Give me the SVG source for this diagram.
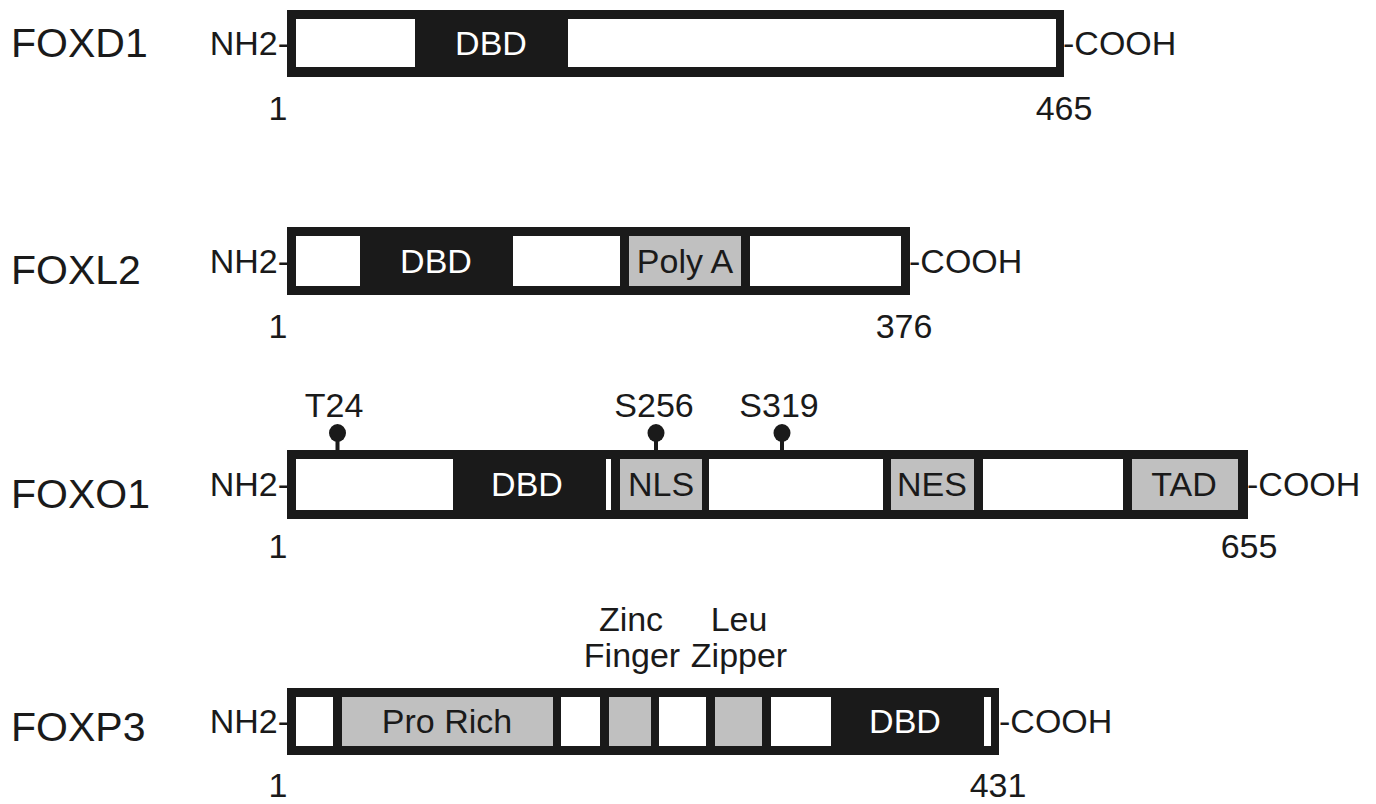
<svg xmlns="http://www.w3.org/2000/svg" width="1376" height="804" viewBox="0 0 1376 804">
<style>
text{font-family:"Liberation Sans",Arial,sans-serif;fill:#1a1a1a}
.name{font-size:41px}
.lbl{font-size:34px}
.in{font-size:34px;text-anchor:middle}
.w{fill:#fff}
.g{fill:#c0c0c0}
.k{fill:#1a1a1a}
.wt{fill:#fff}
.mid{text-anchor:middle}
.end{text-anchor:end}
</style>
<rect width="1376" height="804" fill="#fff"/>
<g id="foxd1">
<text class="name" x="11" y="57">FOXD1</text>
<text class="lbl end" x="289" y="55">NH2-</text>
<rect class="k" x="287" y="10" width="777" height="67"/>
<rect class="w" x="296" y="19" width="119" height="48"/>
<rect class="w" x="568" y="19" width="488" height="48"/>
<text class="in wt" x="491" y="55">DBD</text>
<text class="lbl" x="1063" y="55">-COOH</text>
<text class="lbl mid" x="278" y="120">1</text>
<text class="lbl mid" x="1064" y="120">465</text>
</g>
<g id="foxl2">
<text class="name" x="11" y="284">FOXL2</text>
<text class="lbl end" x="289" y="273">NH2-</text>
<rect class="k" x="287" y="227" width="623" height="68"/>
<rect class="w" x="296" y="236" width="64" height="50"/>
<rect class="w" x="513" y="236" width="107" height="50"/>
<rect class="g" x="629" y="236" width="112" height="50"/>
<rect class="w" x="750" y="236" width="151" height="50"/>
<text class="in wt" x="436" y="273">DBD</text>
<text class="in" x="685" y="273">Poly A</text>
<text class="lbl" x="909" y="273">-COOH</text>
<text class="lbl mid" x="278" y="338">1</text>
<text class="lbl mid" x="904" y="338">376</text>
</g>
<g id="foxo1">
<text class="name" x="11" y="508">FOXO1</text>
<text class="lbl end" x="289" y="496">NH2-</text>
<rect class="k" x="287" y="450" width="961" height="69"/>
<rect class="w" x="296" y="459" width="157" height="51"/>
<rect class="w" x="606" y="459" width="5" height="51"/>
<rect class="g" x="620" y="459" width="82" height="51"/>
<rect class="w" x="709" y="459" width="174" height="51"/>
<rect class="g" x="891" y="459" width="83" height="51"/>
<rect class="w" x="983" y="459" width="140" height="51"/>
<rect class="g" x="1132" y="459" width="106" height="51"/>
<text class="in wt" x="527" y="496">DBD</text>
<text class="in" x="661" y="496">NLS</text>
<text class="in" x="932" y="496">NES</text>
<text class="in" x="1184" y="496">TAD</text>
<text class="lbl" x="1247" y="496">-COOH</text>
<text class="lbl mid" x="278" y="558">1</text>
<text class="lbl mid" x="1249" y="558">655</text>
<text class="lbl mid" x="334" y="417">T24</text>
<text class="lbl mid" x="654" y="417">S256</text>
<text class="lbl mid" x="779" y="417">S319</text>
</g>
<g id="foxp3">
<text class="name" x="11" y="741">FOXP3</text>
<text class="lbl end" x="289" y="733">NH2-</text>
<rect class="k" x="287" y="688" width="712" height="67"/>
<rect class="w" x="296" y="697" width="37" height="49"/>
<rect class="g" x="342" y="697" width="211" height="49"/>
<rect class="w" x="561" y="697" width="39" height="49"/>
<rect class="g" x="609" y="697" width="42" height="49"/>
<rect class="w" x="659" y="697" width="47" height="49"/>
<rect class="g" x="715" y="697" width="47" height="49"/>
<rect class="w" x="771" y="697" width="60" height="49"/>
<rect class="w" x="984" y="697" width="7" height="49"/>
<text class="in" x="447" y="733">Pro Rich</text>
<text class="in wt" x="905" y="733">DBD</text>
<text class="lbl" x="999" y="733">-COOH</text>
<text class="lbl mid" x="631" y="631">Zinc</text>
<text class="lbl mid" x="632" y="667">Finger</text>
<text class="lbl mid" x="739" y="631">Leu</text>
<text class="lbl mid" x="739" y="667">Zipper</text>
<text class="lbl mid" x="278" y="797">1</text>
<text class="lbl mid" x="998" y="797">431</text>
</g>
<g id="connectors" fill="#1a1a1a" stroke="#1a1a1a">
<line x1="337.5" y1="438" x2="337.5" y2="451" stroke-width="4"/>
<ellipse cx="337.5" cy="433" rx="8.5" ry="9" stroke="none"/>
<line x1="656" y1="438" x2="656" y2="451" stroke-width="4"/>
<ellipse cx="656" cy="433" rx="8.5" ry="9" stroke="none"/>
<line x1="782" y1="438" x2="782" y2="451" stroke-width="4"/>
<ellipse cx="782" cy="433" rx="8.5" ry="9" stroke="none"/>
</g>
</svg>
